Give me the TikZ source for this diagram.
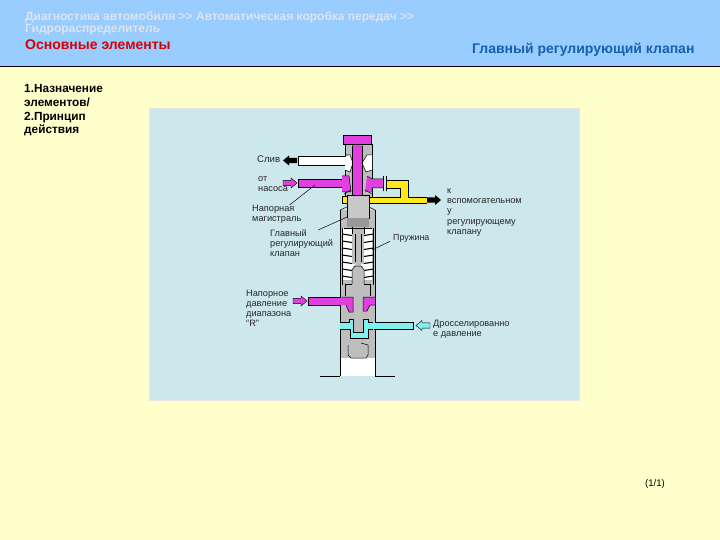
\documentclass[tikz,border=0pt]{standalone}
\usepackage{fontspec}
\setmainfont{Liberation Sans}
\definecolor{bgc}{HTML}{FFFFCC}
\definecolor{headc}{HTML}{99CCFF}
\definecolor{panelc}{HTML}{CCE8EC}
\definecolor{mag}{HTML}{E040E0}
\definecolor{yel}{HTML}{FFE81A}
\definecolor{cya}{HTML}{80F0F0}
\definecolor{gr}{HTML}{BEBEBE}
\definecolor{hd}{HTML}{DDE4EE}
\definecolor{ttl}{HTML}{1560B0}
\tikzset{
 lab/.style={inner sep=0pt,anchor=north west,align=left,font=\fontsize{9.2}{10.2}\selectfont,text=black!85},
 body/.style={draw=black,line width=.5pt},
 leader/.style={draw=black,line width=.5pt},
 pipe/.style={draw=black,line width=.6pt},
 hdr/.style={inner sep=0pt,anchor=north west,align=left,font=\bfseries\fontsize{12}{12}\selectfont,text=hd},
 blockarrow/.pic={\path[pic actions] (0,-2.6) -- (8,-2.6) -- (8,-5) -- (14,0) -- (8,5) -- (8,2.6) -- (0,2.6) -- cycle;}
}
\begin{document}
\begin{tikzpicture}[x=1pt,y=-1pt]
\useasboundingbox (0,0) rectangle (720,540);
\fill[bgc] (0,0) rectangle (720,540);
\fill[headc,draw=black,line width=.8pt] (-1,-1) rectangle (721,66.5);
\node[hdr] (h1) at (25,12) {Диагностика автомобиля {>}{>} Автоматическая коробка передач {>}{>}\\Гидрораспределитель};
\node[inner sep=0pt,anchor=north west,font=\bfseries\fontsize{14}{14}\selectfont,text=red!85!black] (h2) at (25,40) {Основные элементы};
\node[inner sep=0pt,anchor=north west,font=\bfseries\fontsize{14}{14}\selectfont,text=ttl] (h3) at (472,43) {Главный регулирующий клапан};
\node[inner sep=0pt,anchor=north west,align=left,font=\bfseries\fontsize{11.8}{13.7}\selectfont] (side) at (24,84.5) {1.Назначение\\элементов/\\2.Принцип\\действия};
\fill[panelc,draw=white!80!gray,line width=.5pt] (149,108) rectangle (579,400);
% white base below valve
\fill[white] (340,358) rectangle (375,376);
% housing
\fill[gr] (340,210) rectangle (375,358);
\draw[body] (340,210) -- (340,376) (375,210) -- (375,376);
\draw[body] (320,376) -- (340,376) (375,376) -- (395,376);
% spring chamber
\fill[white] (343,228) rectangle (372,280);
% upper part
\fill[gr] (345,144) rectangle (372,197);
\draw[body] (345,144) -- (345,197) (372,144) -- (372,197);
% white drain
\fill[white] (298,157) rectangle (347,165);
\draw[pipe] (298,156.5) -- (345,156.5) (298,165.5) -- (345,165.5) (298,156.5) -- (298,165.5);
\fill[white] (345,157) -- (350,155) -- (353,163) -- (350,172) -- (345,170) -- cycle;
\fill[white] (372,155) -- (367,155) -- (362,163) -- (366,172) -- (372,170) -- cycle;
\draw[body] (345,155) -- (350,155) -- (353,163) -- (350,172) -- (345,170);
\draw[body] (372,155) -- (367,155) -- (362,163) -- (366,172) -- (372,170);
% magenta pump inlet
\fill[mag] (298,179) rectangle (345,187);
\draw[pipe] (298,179) -- (342,179) (298,187) -- (342,187) (298,179) -- (298,187);
\fill[mag] (342,176) -- (349,176) -- (351,192) -- (342,192) -- cycle;
\draw[body] (342,176) -- (349,176) -- (351,192) -- (342,192);
\fill[mag] (367,176) -- (372,179) -- (383,179) -- (383,188) -- (372,188) -- (372,192) -- (365,192) -- cycle;
\draw[body] (367,176) -- (372,179) -- (383,179) (383,188) -- (372,188) -- (372,192);
\draw[body] (383,176) -- (383,191) (386,176) -- (386,191);
% yellow
\fill[yel] (387,180) -- (408,180) -- (408,197) -- (427,197) -- (427,203) -- (368,203) -- (368,197) -- (400,197) -- (400,188) -- (387,188) -- cycle;
\draw[pipe] (387,180) -- (408,180) -- (408,197) -- (427,197) (427,203) -- (368,203) (368,197) -- (400,197) -- (400,188) -- (387,188);
\fill[yel] (342,196) rectangle (347,203);
\draw[body] (342,196) rectangle (347,203);
% magenta T-shaped stem
\fill[mag] (352,144) rectangle (362,196);
\draw[body] (352,146) -- (352,196) (362,146) -- (362,196);
\fill[mag] (343,135) -- (371,135) -- (371,144) -- (343,144) -- cycle;
\draw[body] (343,144) -- (343,135) -- (371,135) -- (371,144) -- (343,144);
% spool head
\fill[gr!85!white] (347,197) rectangle (369,218);
\draw[body] (347,195) -- (369,195) -- (369,218) -- (347,218) -- cycle;
\draw[body] (344,194) -- (351,190) (372,194) -- (365,190);
\fill[gr!80!black] (347,218) rectangle (369,227);
\draw[body] (340,210) -- (347,207) (375,210) -- (369,207);
% rod
\fill[gr] (352,227) rectangle (364,264);
\draw[body] (352,227) -- (352,234) (364,227) -- (364,234) (355,234) -- (355,262) (361,234) -- (361,262);
\fill[gr] (355,262) rectangle (361,267);
\draw[body] (344,228) -- (372,228);
% springs
\foreach \yy in {234,241,248,255,262,269,276}{
 \draw[line width=1.1pt] (342,\yy) -- (352,\yy+1.5);
 \draw[line width=1.1pt] (364,\yy+1.5) -- (373.5,\yy);
}
\draw[body] (342,228) -- (342,285) (373.5,228) -- (373.5,285);
% lower piston
\fill[gr] (353,266) -- (363,266) -- (364,273) -- (364,284) -- (370,284) -- (370,322) -- (345,322) -- (345,284) -- (352,284) -- (352,273) -- cycle;
\draw[body] (352,284) -- (352,270) -- (355,266) -- (361,266) -- (364,270) -- (364,284);
\draw[body] (345,296) -- (345,284) -- (352,284) (364,284) -- (370,284) -- (370,296);
% lower magenta
\fill[mag] (308,297) rectangle (343,305);
\draw[pipe] (308,297) -- (341,297) (308,305) -- (341,305) (308,297) -- (308,305);
\fill[mag] (342,297) -- (353,297) -- (353,312) -- (349,312) -- (346,305) -- (342,305) -- cycle;
\draw[body] (342,297) -- (353,297) -- (353,312) -- (349,312) -- (346,305);
\fill[mag] (363,297) -- (375,297) -- (375,305) -- (370,305) -- (367,311) -- (363,311) -- cycle;
\draw[body] (375,297) -- (363,297) -- (363,311) -- (367,311) -- (370,305) -- (375,305);
% cyan
\fill[cya] (373,322) rectangle (413,329);
\draw[pipe] (374,322) -- (413,322) -- (413,329) -- (374,329);
\fill[cya] (340,322) -- (349,322) -- (349,319) -- (353,319) -- (353,332) -- (363,332) -- (363,319) -- (368,319) -- (368,338) -- (350,338) -- (350,329) -- (340,329) -- cycle;
\draw[body] (340,322) -- (349,322) -- (349,319) -- (353,319) -- (353,332) -- (363,332) -- (363,319) -- (368,319) -- (368,338) -- (350,338) -- (350,329) -- (340,329);
\fill[cya] (368,322) rectangle (375,329);
\draw[body] (368,322) -- (373,322) (368,329) -- (373,329);
% plug
\draw[body] (348,345) -- (348,355) -- (351,358) -- (366,358) -- (368,355) -- (368,345) -- (361,343);
% arrows
\pic[fill=black,xscale=-1] at (297,160.5) {blockarrow};
\pic[fill=mag,draw=black,line width=.4pt] at (283,183) {blockarrow};
\pic[fill=black] at (427,200) {blockarrow};
\pic[fill=mag,draw=black,line width=.4pt] at (293,301) {blockarrow};
\pic[fill=cya,draw=black,line width=.4pt,xscale=-1] at (430,325.5) {blockarrow};
% labels
\node[lab,font=\fontsize{9.6}{11}\selectfont] (l1) at (257,156) {Слив};
\node[lab] (l2) at (258,176.5) {от\\насоса};
\node[lab] (l3) at (252,205) {Напорная\\магистраль};
\node[lab] (l4) at (270,229) {Главный\\регулирующий\\клапан};
\node[lab,font=\fontsize{8.8}{11}\selectfont] (l5) at (393,234) {Пружина};
\node[lab] (l6) at (447,188.5) {к\\вспомогательном\\у\\регулирующему\\клапану};
\node[lab] (l7) at (246,289.5) {Напорное\\давление\\диапазона\\“R”};
\node[lab] (l8) at (433,320) {Дросселированно\\е давление};
\node[inner sep=0pt,font=\fontsize{9.6}{10}\selectfont] (pg) at (655,484.5) {(1/1)};
% leaders
\coordinate (t3) at (315,185);
\draw[leader] (l3.north east) ++(-12,0) -- (t3);
\coordinate (t4) at (347,217);
\draw[leader] (l4.north east) ++(-15,1) -- (t4);
\coordinate (t5) at (372,250);
\draw[leader] (l5.south west) ++(-3,-1) -- (t5);
\end{tikzpicture}
\end{document}
